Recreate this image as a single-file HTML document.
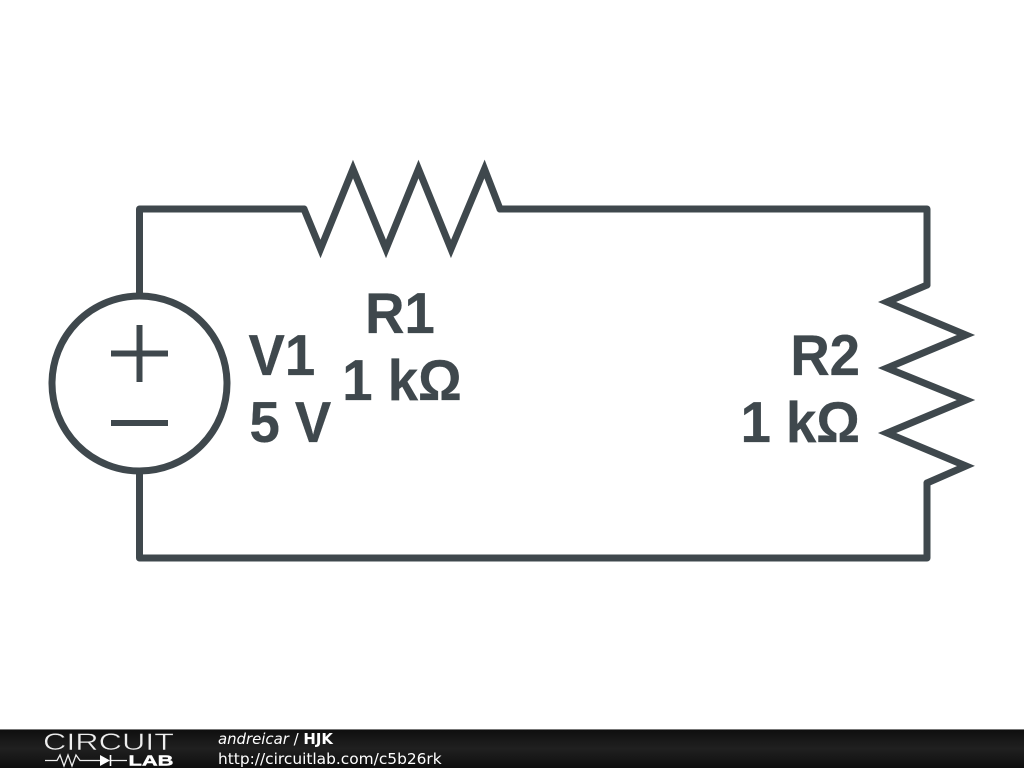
<!DOCTYPE html>
<html>
<head>
<meta charset="utf-8">
<style>
html,body{margin:0;padding:0;background:#fff;width:1024px;height:768px;overflow:hidden}
svg{display:block}
</style>
</head>
<body>
<svg width="1024" height="768" viewBox="0 0 1024 768" xmlns="http://www.w3.org/2000/svg">
<defs>
<linearGradient id="bar" x1="0" y1="0" x2="0" y2="1">
<stop offset="0" stop-color="#0e0e0e"/>
<stop offset="0.5" stop-color="#202020"/>
<stop offset="1" stop-color="#0e0e0e"/>
</linearGradient>
</defs>
<rect width="1024" height="768" fill="#fff"/>
<g fill="none" stroke="#3f484d" stroke-width="7" stroke-linejoin="round" stroke-linecap="round">
<path d="M139.500 296V209H304"/>
<path d="M500 209H927V285"/>
<path d="M927 483V558H139.500V472"/>
<path stroke-linejoin="miter" stroke-miterlimit="10" d="M304 209L320.500 249L353 169L386 249L418.500 169L451 249L484.500 169L500 209"/>
<path stroke-linejoin="miter" stroke-miterlimit="10" d="M927 285L887 302L966 335L887 368L966 400L887 433L966 466L927 483"/>
<circle cx="139.500" cy="383.500" r="87.500"/>
<path stroke-width="6" stroke-linecap="butt" d="M139.500 325V382M111 353.500H168M111 423H168"/>
</g>
<g font-family="'Liberation Sans',sans-serif" font-weight="bold" font-size="54.500" fill="#3f484d" stroke="#3f484d" stroke-width="0.3">
<text transform="translate(248.500 375) scale(1 1.06)">V1</text>
<text transform="translate(249.500 442) scale(1 1.06)">5 V</text>
<text transform="translate(400 333) scale(1 1.06)" text-anchor="middle">R1</text>
<text transform="translate(402 400) scale(1 1.06)" text-anchor="middle">1 kΩ</text>
<text transform="translate(860 375) scale(1 1.06)" text-anchor="end">R2</text>
<text transform="translate(860 442) scale(1 1.06)" text-anchor="end">1 kΩ</text>
</g>
<rect x="0" y="729" width="1024" height="39" fill="url(#bar)"/>
<rect x="0" y="729" width="1024" height="1" fill="#777"/>
<text x="43" y="750" font-family="'Liberation Sans',sans-serif" font-size="24.500" fill="#eee" stroke="#1a1a1a" stroke-width="0.5" textLength="131" lengthAdjust="spacingAndGlyphs">CIRCUIT</text>
<path fill="none" stroke="#eee" stroke-width="1.3" d="M45 760.500H57L60 755L64 766L68 755L72 766L76 755L80 760.500H100M110 760.500H127"/>
<path fill="#fff" d="M100 755L110 760.500L100 766Z"/>
<path stroke="#fff" stroke-width="1.6" d="M110.500 755V766"/>
<text x="128.500" y="765.500" font-family="'Liberation Sans',sans-serif" font-size="15" font-weight="bold" fill="#fff" stroke="#fff" stroke-width="0.4" textLength="45" lengthAdjust="spacingAndGlyphs">LAB</text>
<text x="218" y="744" font-family="'DejaVu Sans',sans-serif" font-size="14.900" fill="#fff"><tspan font-style="italic">andreicar</tspan> / <tspan font-weight="bold">HJK</tspan></text>
<text x="218" y="764" font-family="'DejaVu Sans',sans-serif" font-size="15.400" fill="#fff">http://circuitlab.com/c5b26rk</text>
</svg>
</body>
</html>
